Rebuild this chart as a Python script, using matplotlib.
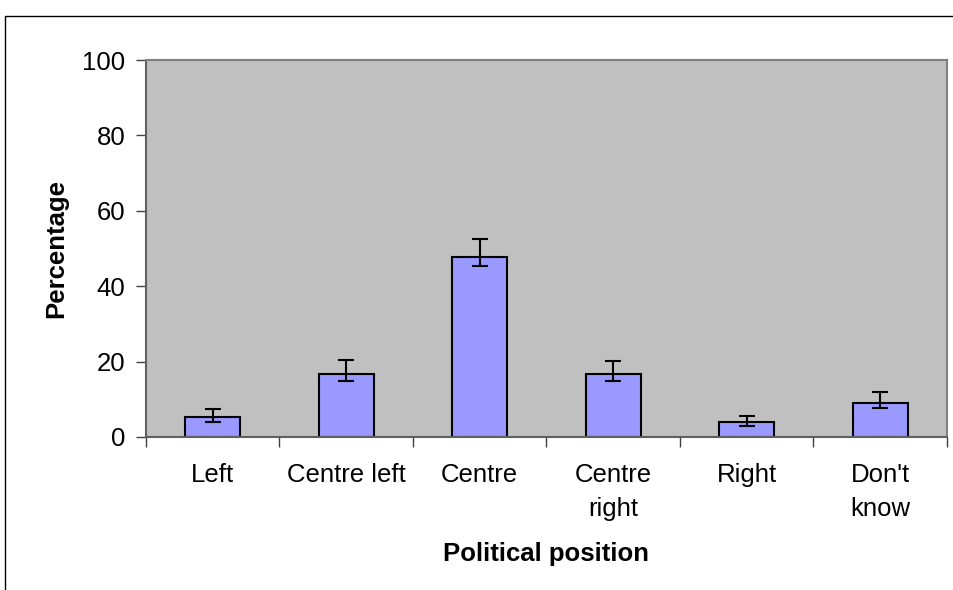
import matplotlib.pyplot as plt
import numpy as np
from matplotlib.lines import Line2D

plt.rcParams['font.family'] = ['Liberation Sans', 'DejaVu Sans']

# data
positions = ['Left', 'Centre left', 'Centre', 'Centre\nright', 'Right', "Don't\nknow"]
percent = [5.2, 16.7, 47.8, 16.6, 3.9, 9.1]
err_low = [1.1, 1.8, 2.4, 1.8, 1.1, 1.4]
err_high = [2.2, 3.6, 4.7, 3.6, 1.8, 2.8]

fig = plt.figure(figsize=(9.54, 5.9), dpi=100)
ax = fig.add_axes([146/954, 1 - 437/590, (947 - 146)/954, (437 - 60)/590])
ax.set_facecolor('#C0C0C0')

x = np.arange(len(positions))
ax.bar(x, percent, width=0.41, color='#9999FF', edgecolor='black', linewidth=1.5, zorder=2)
ax.errorbar(x, percent, yerr=[err_low, err_high], fmt='none', ecolor='black',
            elinewidth=1.5, capsize=6, capthick=1.5, zorder=3)

ax.set_xlim(-0.5, len(positions) - 0.5)
ax.set_ylim(0, 100)
ax.set_yticks(range(0, 101, 20))

# category ticks on the boundaries, labels in the middle
ax.set_xticks(np.arange(-0.5, len(positions), 1.0))
ax.set_xticklabels([])
ax.set_xticks(x, minor=True)
ax.set_xticklabels(positions, minor=True, fontsize=18.5, va='top', ha='center', linespacing=1.5)
ax.tick_params(axis='x', which='minor', length=0, pad=19)
ax.tick_params(axis='x', which='major', length=7, width=1, color='#404040', direction='out')
ax.tick_params(axis='y', length=7, width=1, color='#404040', direction='out', labelsize=18.5, pad=8)

for side in ['top', 'right']:
    ax.spines[side].set_color('#808080')
    ax.spines[side].set_linewidth(1.5)
for side in ['left', 'bottom']:
    ax.spines[side].set_color('#606060')
    ax.spines[side].set_linewidth(1.5)

ax.set_ylabel('Percentage', fontsize=18.5, fontweight='bold', labelpad=10)
ax.set_xlabel('Political position', fontsize=18.5, fontweight='bold', labelpad=15)

# outer chart frame (only left and top edges visible)
fig.add_artist(Line2D([5/954, 5/954, 1.0], [0.0, 1 - 16/590, 1 - 16/590],
                      transform=fig.transFigure, color='black', linewidth=1))

fig.savefig('out.png', dpi=100)
